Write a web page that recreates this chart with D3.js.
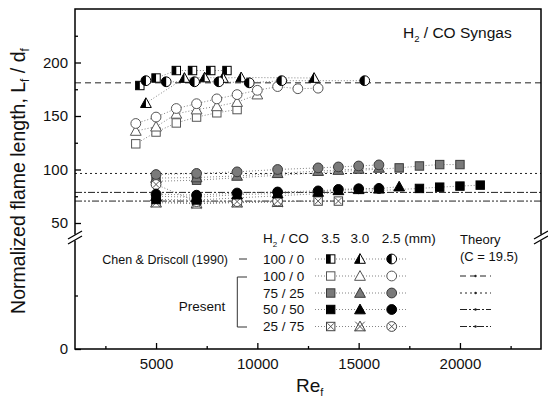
<!DOCTYPE html>
<html>
<head>
<meta charset="utf-8">
<script src="https://cdn.jsdelivr.net/npm/d3@7"></script>
<style>
body { margin: 0; background: #fff; }
svg { font-family: "Liberation Sans", Arial, sans-serif; }
</style>
</head>
<body>
<svg id="chart" width="548" height="398"></svg>
<script>
// Chen & Driscoll (1990), 100/0, half-filled symbols  [Re_f, L_f/d_f]
const chen35 = [[4200, 178.5], [5000, 185.5], [6000, 192.5], [6800, 192.5], [7700, 192.5], [8500, 192.5]];
const chen30 = [[4500, 162], [6400, 185.5], [7400, 186], [8300, 185.5], [9200, 186], [12800, 185.5]];
const chen25 = [[4500, 183], [5500, 182], [6900, 182], [8100, 182], [9600, 181], [11200, 183], [15300, 183]];

// Present, 100/0 (open)
const p100_35 = [[4000, 124], [5000, 135], [6000, 143.5], [7000, 149], [8000, 153], [9000, 156]];
const p100_30 = [[4000, 136], [5000, 140], [6000, 152], [7000, 156], [8000, 159], [9000, 163], [10000, 170]];
const p100_25 = [[4000, 143], [5000, 149], [6000, 157], [7000, 161.5], [8000, 166], [9000, 170], [10000, 174], [11000, 177.5], [12000, 175.5], [13000, 176]];

// Present, 75/25 (gray)
const p75_35 = [[5000, 89], [7000, 90], [17000, 101.5], [18000, 103.3], [19000, 104.6], [20000, 104.6]];
const p75_30 = [[5000, 92], [7000, 92.5], [9000, 94], [11000, 96.5], [13000, 98.5], [14000, 99.5], [15000, 100.5], [16000, 101.5]];
const p75_25 = [[5000, 95.3], [7000, 96.3], [9000, 97.8], [11000, 100], [13000, 101.5], [14000, 102.4], [15000, 103.3], [16000, 104.3]];

// Present, 50/50 (black)
const p50_35 = [[5000, 72], [7000, 71.5], [18000, 82.3], [19000, 83.5], [20000, 84.5], [21000, 85.4]];
const p50_30 = [[5000, 75], [7000, 74], [9000, 76.5], [11000, 77.5], [13000, 79], [14000, 80.5], [15000, 81.5], [16000, 82], [17000, 84]];
const p50_25 = [[5000, 77], [7000, 76], [9000, 78], [11000, 79], [13000, 80], [14000, 81.4], [15000, 82], [16000, 82.3]];

// Present, 25/75 (crossed)
const p25_35 = [[5000, 70], [7000, 68.5], [9000, 69.5], [11000, 70], [13000, 70.5], [14000, 70.5]];
const p25_30 = [[5000, 69], [7000, 68], [9000, 69], [11000, 69.5]];
const p25_25 = [[5000, 86], [7000, 70], [9000, 70], [11000, 70.5]];

// Theory (C = 19.5)
const theoryValues = [181, 96.3, 78.6, 70.5];
const theoryDash = ["6,4", "2,3", "7,2,2,2", "7,2,2,2,2,2"];

const xMajor = [5000, 10000, 15000, 20000];
const xMinor = [2500, 7500, 12500, 17500, 22500];
const yMajor = [50, 100, 150, 200];
const yMinor = [75, 125, 175, 225];

const legendRows = ["100 / 0", "100 / 0", "75 / 25", "50 / 50", "25 / 75"];
const legendStyles = ["half", "open", "gray", "black", "cross"];
const sizeLabels = ["3.5", "3.0", "2.5 (mm)"];

const svg = d3.select("#chart");
const pLeft = 75, pRight = 541, pTop = 9, pBottom = 349;

const x = d3.scaleLinear().domain([1000, 24000]).range([pLeft, pRight]);
const y = d3.scaleLinear().domain([45, 250]).range([228.35, pTop]);
const yLow = d3.scaleLinear().domain([0, 100]).range([pBottom, 242]);

// marker drawing
function marker(g, shape, style, cx, cy) {
    const fill = {half: "#fff", open: "#fff", gray: "#7a7a7a", black: "#000", cross: "#fff"}[style];
    const stroke = {half: "#000", open: "#555", gray: "#3a3a3a", black: "#000", cross: "#444"}[style];
    const m = g.append("g").attr("transform", `translate(${cx},${cy})`);
    let s;
    if (shape === "sq") {
        s = 4.2;
        m.append("rect").attr("x", -s).attr("y", -s).attr("width", 2 * s).attr("height", 2 * s)
            .attr("fill", fill).attr("stroke", stroke).attr("stroke-width", 1);
        if (style === "half") {
            m.append("rect").attr("x", -s).attr("y", -s).attr("width", s).attr("height", 2 * s).attr("fill", "#000");
        }
    } else if (shape === "tri") {
        s = 5.4;
        m.append("path").attr("d", `M0,${-s}L${s},${s * 0.8}L${-s},${s * 0.8}Z`)
            .attr("fill", fill).attr("stroke", stroke).attr("stroke-width", 1);
        if (style === "half") {
            m.append("path").attr("d", `M0,${-s}L0,${s * 0.8}L${-s},${s * 0.8}Z`).attr("fill", "#000");
        }
    } else {
        s = 4.9;
        m.append("circle").attr("r", s).attr("fill", fill).attr("stroke", stroke).attr("stroke-width", 1);
        if (style === "half") {
            m.append("path").attr("d", `M0,${-s}A${s},${s} 0 0,0 0,${s}Z`).attr("fill", "#000");
        }
    }
    if (style === "cross") {
        const c = shape === "tri" ? 4.8 : 3.2;
        m.append("path").attr("d", `M${-c},${-c}L${c},${c}M${c},${-c}L${-c},${c}`)
            .attr("stroke", stroke).attr("stroke-width", 0.9);
    }
}

const conn = d3.line().x(d => x(d[0])).y(d => y(d[1]));

// theory lines
theoryValues.forEach((v, i) => {
    svg.append("line")
        .attr("x1", pLeft).attr("x2", pRight)
        .attr("y1", y(v)).attr("y2", y(v))
        .attr("stroke", "#222").attr("stroke-width", 1)
        .attr("stroke-dasharray", theoryDash[i]);
});

const series = [
    [p100_35, "sq", "open"], [p100_30, "tri", "open"], [p100_25, "circ", "open"],
    [chen35, "sq", "half"], [chen30, "tri", "half"], [chen25, "circ", "half"],
    [p75_35, "sq", "gray"], [p75_30, "tri", "gray"], [p75_25, "circ", "gray"],
    [p25_35, "sq", "cross"], [p25_30, "tri", "cross"], [p25_25, "circ", "cross"],
    [p50_35, "sq", "black"], [p50_30, "tri", "black"], [p50_25, "circ", "black"]
];

const lineG = svg.append("g");
const markG = svg.append("g");
series.forEach(([data, shape, style]) => {
    lineG.append("path").datum(data)
        .attr("d", conn)
        .attr("fill", "none")
        .attr("stroke", "#666")
        .attr("stroke-width", 0.8)
        .attr("stroke-dasharray", "1,2");
});
series.forEach(([data, shape, style]) => {
    data.forEach(d => marker(markG, shape, style, x(d[0]), y(d[1])));
});

// axes
const fs = "15px";
function styleAxis(g) {
    g.select(".domain").remove();
    g.selectAll("line").attr("stroke", "#000").attr("stroke-width", 1.3);
    g.selectAll("text").attr("font-size", fs).attr("fill", "#111")
        .attr("font-family", '"Liberation Sans", Arial, sans-serif');
}

svg.append("g").attr("transform", `translate(0,${pBottom})`)
    .call(d3.axisBottom(x).tickValues(xMajor).tickSize(-6).tickPadding(9).tickFormat(d3.format("d")))
    .call(styleAxis);
svg.append("g").attr("transform", `translate(0,${pBottom})`)
    .call(d3.axisBottom(x).tickValues(xMinor).tickSize(-3).tickFormat(""))
    .call(styleAxis);

svg.append("g").attr("transform", `translate(${pLeft},0)`)
    .call(d3.axisLeft(y).tickValues(yMajor).tickSize(-6).tickPadding(7))
    .call(styleAxis);
svg.append("g").attr("transform", `translate(${pLeft},0)`)
    .call(d3.axisLeft(y).tickValues(yMinor).tickSize(-3).tickFormat(""))
    .call(styleAxis);
svg.append("g").attr("transform", `translate(${pLeft},0)`)
    .call(d3.axisLeft(yLow).tickValues([0]).tickSize(-6).tickPadding(7))
    .call(styleAxis);
svg.append("g").attr("transform", `translate(${pLeft},0)`)
    .call(d3.axisLeft(yLow).tickValues([50]).tickSize(-3).tickFormat(""))
    .call(styleAxis);

// frame with broken y axis
const brk = 237.5;
const frame = svg.append("g").attr("stroke", "#000").attr("stroke-width", 1.5).attr("fill", "none");
frame.append("path").attr("d", `M${pLeft},${brk - 3}V${pTop}H${pRight}V${brk - 3}`);
frame.append("path").attr("d", `M${pLeft},${brk + 3}V${pBottom}H${pRight}V${brk + 3}`);
[pLeft, pRight].forEach(ax => {
    [-2.5, 2.5].forEach(o => {
        frame.append("line")
            .attr("x1", ax - 7).attr("y1", brk + o + 4)
            .attr("x2", ax + 7).attr("y2", brk + o - 4)
            .attr("stroke-width", 1.2);
    });
});

// axis titles
svg.append("text").attr("x", 296).attr("y", 392).attr("font-size", "19px").attr("fill", "#111")
    .text("Re").append("tspan").attr("font-size", "11px").attr("dy", 4).text("f");

const yt = svg.append("text")
    .attr("transform", `translate(25,181) rotate(-90)`)
    .attr("text-anchor", "middle").attr("font-size", "19.5px").attr("fill", "#111");
yt.append("tspan").text("Normalized flame length, L");
yt.append("tspan").attr("font-size", "12px").attr("dy", 4).text("f");
yt.append("tspan").attr("dy", -4).text(" / d");
yt.append("tspan").attr("font-size", "12px").attr("dy", 4).text("f");

// title
const tt = svg.append("text").attr("x", 403).attr("y", 38).attr("font-size", "15.5px").attr("fill", "#111");
tt.append("tspan").text("H");
tt.append("tspan").attr("font-size", "9.5px").attr("dy", 4).text("2");
tt.append("tspan").attr("dy", -4).text(" / CO Syngas");

// legend
const lg = svg.append("g").attr("font-size", "13.5px").attr("fill", "#111");
const hdr = lg.append("text").attr("x", 263).attr("y", 243);
hdr.append("tspan").text("H");
hdr.append("tspan").attr("font-size", "8px").attr("dy", 4).text("2");
hdr.append("tspan").attr("dy", -4).text(" / CO");

const colX = [330.7, 360, 391.7];
sizeLabels.forEach((t, i) => {
    lg.append("text").attr("x", i < 2 ? colX[i] : colX[i] - 10)
        .attr("text-anchor", i < 2 ? "middle" : "start")
        .attr("y", 243).text(t);
});
lg.append("text").attr("x", 460).attr("y", 244).attr("font-size", "13px").text("Theory");
lg.append("text").attr("x", 460).attr("y", 261).attr("font-size", "13px").text("(C = 19.5)");

const rowY = [259, 276, 293, 309.5, 326.5];
const shapes = ["sq", "tri", "circ"];
legendRows.forEach((label, r) => {
    lg.append("text").attr("x", 263).attr("y", rowY[r] + 4.5).text(label);
    lg.append("line").attr("x1", 315).attr("x2", 408)
        .attr("y1", rowY[r]).attr("y2", rowY[r])
        .attr("stroke", "#666").attr("stroke-width", 0.8).attr("stroke-dasharray", "1,2");
    shapes.forEach((sh, i) => marker(lg, sh, legendStyles[r], colX[i], rowY[r]));
    if (r > 0) {
        lg.append("line").attr("x1", 460).attr("x2", 491)
            .attr("y1", rowY[r]).attr("y2", rowY[r])
            .attr("stroke", "#222").attr("stroke-width", 1)
            .attr("stroke-dasharray", theoryDash[r - 1]);
        lg.append("circle").attr("cx", 475.5).attr("cy", rowY[r]).attr("r", 1.2).attr("fill", "#222");
    }
});
lg.append("text").attr("x", 228).attr("y", rowY[0] + 4.5).attr("text-anchor", "end")
    .attr("font-size", "12.5px").text("Chen & Driscoll (1990)");
lg.append("line").attr("x1", 239).attr("x2", 247).attr("y1", rowY[0]).attr("y2", rowY[0])
    .attr("stroke", "#333").attr("stroke-width", 1);
lg.append("text").attr("x", 202).attr("y", 311).attr("text-anchor", "middle").text("Present");
lg.append("path").attr("d", `M247,277H237.3V327H247`).attr("fill", "none")
    .attr("stroke", "#333").attr("stroke-width", 1);
</script>
</body>
</html>
